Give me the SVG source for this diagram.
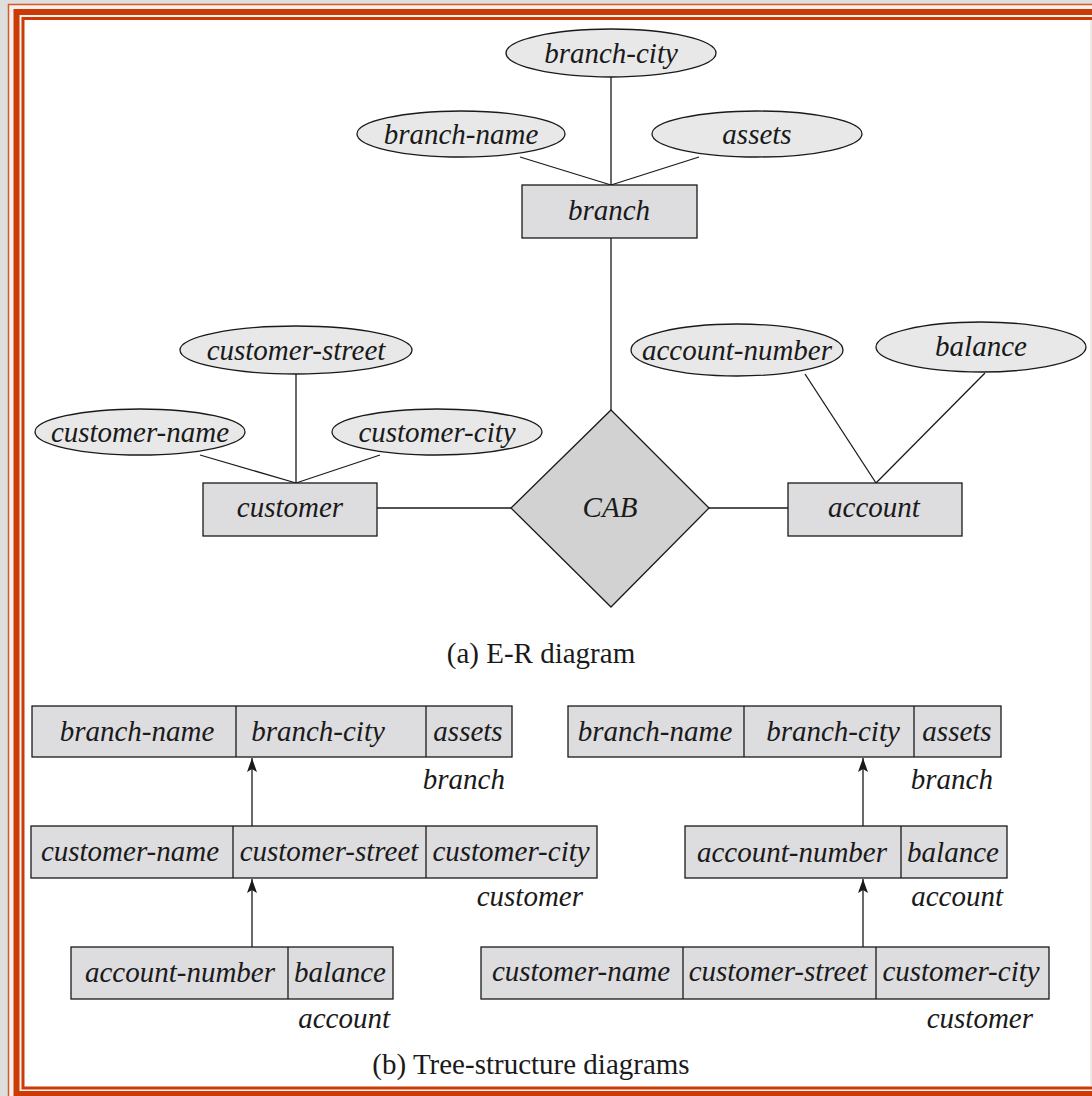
<svg xmlns="http://www.w3.org/2000/svg" width="1092" height="1096" viewBox="0 0 1092 1096">
  <style>
    .attr { fill: #e8e8e8; stroke: #1a1a1a; stroke-width: 1.3; }
    .ent { fill: #dddcdf; stroke: #1a1a1a; stroke-width: 1.3; }
    .rel { fill: #d2d2d2; stroke: #1a1a1a; stroke-width: 1.3; }
    .cell { fill: #dddcdf; stroke: #1a1a1a; stroke-width: 1.3; }
    .div { stroke: #1a1a1a; stroke-width: 1.3; }
    .edge { stroke: #1a1a1a; stroke-width: 1.3; fill: none; }
    .lbl { font-family: "Liberation Serif", "Times New Roman", serif; font-style: italic; font-size: 29px; fill: #1a1a1a; text-anchor: middle; }
    .name { font-family: "Liberation Serif", "Times New Roman", serif; font-style: italic; font-size: 29px; fill: #1a1a1a; text-anchor: end; }
    .cap { font-family: "Liberation Serif", "Times New Roman", serif; font-size: 29px; fill: #1a1a1a; text-anchor: middle; }
  </style>
  <defs>
    <!-- filled arrowhead, tip at the line end -->
    <marker id="arrow" viewBox="0 0 14 10" refX="14" refY="5" markerWidth="14" markerHeight="10" markerUnits="userSpaceOnUse" orient="auto">
      <path d="M0,0 L14,5 L0,10 L3,5 Z" fill="#1a1a1a"/>
    </marker>
  </defs>

  <!-- page background and framed border -->
  <rect x="0" y="0" width="1092" height="1096" fill="#dedede"/>
  <rect x="8.5" y="4.5" width="1100" height="1100" fill="#f4f0ee" stroke="#d9572a" stroke-width="1.5"/>
  <rect x="16.5" y="12" width="1090" height="1082" fill="#f6f4f3" stroke="#cc3a06" stroke-width="6"/>
  <rect x="23" y="18.5" width="1080" height="1069.5" fill="#ffffff" stroke="#cc3a06" stroke-width="3"/>
  <rect x="1090" y="20" width="2" height="1066" fill="#eeeae8"/>

  <!-- E-R connectors -->
  <g id="er-connectors">
    <line class="edge" x1="611" y1="77" x2="611" y2="185"/>
    <line class="edge" x1="520" y1="157" x2="611" y2="185"/>
    <line class="edge" x1="699" y1="157" x2="611" y2="185"/>
    <line class="edge" x1="611" y1="238" x2="611" y2="410"/>
    <line class="edge" x1="296" y1="374" x2="296" y2="483"/>
    <line class="edge" x1="200" y1="455" x2="296" y2="483"/>
    <line class="edge" x1="380" y1="455" x2="296" y2="483"/>
    <line class="edge" x1="377" y1="508" x2="511" y2="508"/>
    <line class="edge" x1="709" y1="508" x2="788" y2="508"/>
    <line class="edge" x1="805" y1="374" x2="876" y2="483"/>
    <line class="edge" x1="985" y1="373" x2="876" y2="483"/>
  </g>

  <!-- E-R nodes -->
  <g id="attr-branch-city">
    <ellipse class="attr" cx="611" cy="53" rx="105" ry="24"/>
    <text class="lbl" x="611" y="63">branch-city</text>
  </g>
  <g id="attr-branch-name">
    <ellipse class="attr" cx="461" cy="134" rx="104" ry="23"/>
    <text class="lbl" x="461" y="144">branch-name</text>
  </g>
  <g id="attr-assets">
    <ellipse class="attr" cx="757" cy="134" rx="105" ry="23"/>
    <text class="lbl" x="757" y="144">assets</text>
  </g>
  <g id="ent-branch">
    <rect class="ent" x="522" y="185" width="175" height="53"/>
    <text class="lbl" x="609" y="220">branch</text>
  </g>
  <g id="attr-customer-street">
    <ellipse class="attr" cx="296" cy="350" rx="116" ry="24"/>
    <text class="lbl" x="296" y="360">customer-street</text>
  </g>
  <g id="attr-customer-name">
    <ellipse class="attr" cx="140" cy="432" rx="105" ry="23"/>
    <text class="lbl" x="140" y="442">customer-name</text>
  </g>
  <g id="attr-customer-city">
    <ellipse class="attr" cx="437" cy="432" rx="105" ry="23"/>
    <text class="lbl" x="437" y="442">customer-city</text>
  </g>
  <g id="ent-customer">
    <rect class="ent" x="203" y="483" width="174" height="53"/>
    <text class="lbl" x="290" y="517">customer</text>
  </g>
  <g id="rel-cab">
    <polygon class="rel" points="611,410 709,508 611,607 511,508"/>
    <text class="lbl" x="610" y="517">CAB</text>
  </g>
  <g id="attr-account-number">
    <ellipse class="attr" cx="737" cy="350" rx="106" ry="26"/>
    <text class="lbl" x="737" y="360">account-number</text>
  </g>
  <g id="attr-balance">
    <ellipse class="attr" cx="981" cy="347" rx="105" ry="25"/>
    <text class="lbl" x="981" y="356">balance</text>
  </g>
  <g id="ent-account">
    <rect class="ent" x="788" y="483" width="174" height="53"/>
    <text class="lbl" x="874" y="517">account</text>
  </g>

  <text class="cap" x="541" y="663">(a) E-R diagram</text>

  <!-- tree-structure connectors -->
  <g id="tree-connectors">
    <line class="edge" x1="252" y1="826" x2="252" y2="758" marker-end="url(#arrow)"/>
    <line class="edge" x1="252" y1="947" x2="252" y2="879" marker-end="url(#arrow)"/>
    <line class="edge" x1="863" y1="826" x2="863" y2="758" marker-end="url(#arrow)"/>
    <line class="edge" x1="863" y1="947" x2="863" y2="879" marker-end="url(#arrow)"/>
  </g>

  <!-- left tree -->
  <g id="left-branch">
    <rect class="cell" x="32" y="706" width="480" height="51"/>
    <line class="div" x1="236" y1="706" x2="236" y2="757"/>
    <line class="div" x1="426" y1="706" x2="426" y2="757"/>
    <text class="lbl" x="137" y="741">branch-name</text>
    <text class="lbl" x="318" y="741">branch-city</text>
    <text class="lbl" x="468" y="741">assets</text>
    <text class="name" x="505" y="789">branch</text>
  </g>
  <g id="left-customer">
    <rect class="cell" x="31" y="826" width="566" height="52"/>
    <line class="div" x1="233" y1="826" x2="233" y2="878"/>
    <line class="div" x1="426" y1="826" x2="426" y2="878"/>
    <text class="lbl" x="130" y="861">customer-name</text>
    <text class="lbl" x="329" y="861">customer-street</text>
    <text class="lbl" x="511" y="861">customer-city</text>
    <text class="name" x="583" y="906">customer</text>
  </g>
  <g id="left-account">
    <rect class="cell" x="71" y="947" width="322" height="52"/>
    <line class="div" x1="288" y1="947" x2="288" y2="999"/>
    <text class="lbl" x="180" y="982">account-number</text>
    <text class="lbl" x="340" y="982">balance</text>
    <text class="name" x="390" y="1028">account</text>
  </g>

  <!-- right tree -->
  <g id="right-branch">
    <rect class="cell" x="568" y="706" width="433" height="51"/>
    <line class="div" x1="744" y1="706" x2="744" y2="757"/>
    <line class="div" x1="914" y1="706" x2="914" y2="757"/>
    <text class="lbl" x="655" y="741">branch-name</text>
    <text class="lbl" x="833" y="741">branch-city</text>
    <text class="lbl" x="957" y="741">assets</text>
    <text class="name" x="993" y="789">branch</text>
  </g>
  <g id="right-account">
    <rect class="cell" x="685" y="826" width="322" height="52"/>
    <line class="div" x1="901" y1="826" x2="901" y2="878"/>
    <text class="lbl" x="792" y="862">account-number</text>
    <text class="lbl" x="953" y="862">balance</text>
    <text class="name" x="1003" y="906">account</text>
  </g>
  <g id="right-customer">
    <rect class="cell" x="481" y="947" width="568" height="52"/>
    <line class="div" x1="683" y1="947" x2="683" y2="999"/>
    <line class="div" x1="876" y1="947" x2="876" y2="999"/>
    <text class="lbl" x="581" y="981">customer-name</text>
    <text class="lbl" x="778" y="981">customer-street</text>
    <text class="lbl" x="961" y="981">customer-city</text>
    <text class="name" x="1033" y="1028">customer</text>
  </g>

  <text class="cap" x="531" y="1074">(b) Tree-structure diagrams</text>
</svg>
